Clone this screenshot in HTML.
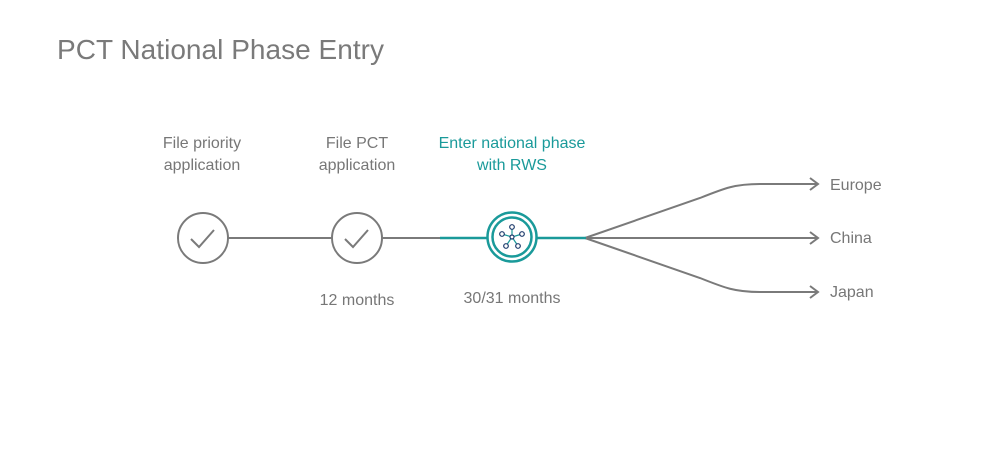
<!DOCTYPE html>
<html><head><style>
html,body{margin:0;padding:0;background:#fff;}
svg text{font-family:"Liberation Sans",sans-serif;}
</style></head><body>
<svg width="1000" height="450" viewBox="0 0 1000 450" xmlns="http://www.w3.org/2000/svg">
<text x="57" y="59" font-size="28" fill="#7a7a7a" textLength="327" lengthAdjust="spacing">PCT National Phase Entry</text>
<g font-size="16" fill="#777" text-anchor="middle">
<text x="202" y="148">File priority</text>
<text x="202" y="170">application</text>
<text x="357" y="148">File PCT</text>
<text x="357" y="170">application</text>
<text x="357" y="305">12 months</text>
<text x="512" y="303">30/31 months</text>
</g>
<g font-size="16" fill="#1a9a9a" text-anchor="middle">
<text x="512" y="148">Enter national phase</text>
<text x="512" y="170">with RWS</text>
</g>
<g stroke="#7a7a7a" stroke-width="2" fill="none">
<line x1="228" y1="238" x2="332" y2="238"/>
<line x1="382" y1="238" x2="440" y2="238"/>
<circle cx="203" cy="238" r="25"/>
<circle cx="357" cy="238" r="25"/>
<polyline points="191,239 199,247 214,230"/>
<polyline points="345,239 353,247 368,230"/>
<path d="M585,238 L700,198 C725,188 735,184 760,184 L818,184"/>
<line x1="585" y1="238" x2="818" y2="238"/>
<path d="M585,238 L700,278 C725,288 735,292 760,292 L818,292"/>
<polyline points="810,178 818,184 810,190"/>
<polyline points="810,232 818,238 810,244"/>
<polyline points="810,286 818,292 810,298"/>
</g>
<g stroke="#1a9a9a" stroke-width="2.5" fill="none">
<line x1="440" y1="238" x2="487" y2="238"/>
<line x1="537" y1="238" x2="586" y2="238"/>
<circle cx="512" cy="237" r="24.5"/>
<circle cx="512" cy="237" r="19.5"/>
</g>
<g stroke="#1a9a9a" stroke-width="1.2" fill="none">
<line x1="512" y1="237" x2="512" y2="227"/>
<line x1="512" y1="237" x2="502" y2="234"/>
<line x1="512" y1="237" x2="522" y2="234"/>
<line x1="512" y1="237" x2="506" y2="246"/>
<line x1="512" y1="237" x2="518" y2="246"/>
</g>
<g stroke="#1d3a6b" stroke-width="1.2" fill="#fff">
<circle cx="512" cy="227" r="2.3"/>
<circle cx="502" cy="234" r="2.3"/>
<circle cx="522" cy="234" r="2.3"/>
<circle cx="506" cy="246" r="2.3"/>
<circle cx="518" cy="246" r="2.3"/>
<circle cx="512" cy="237" r="2"/>
</g>
<g font-size="16" fill="#777">
<text x="830" y="190">Europe</text>
<text x="830" y="243">China</text>
<text x="830" y="297">Japan</text>
</g>
</svg>
</body></html>
